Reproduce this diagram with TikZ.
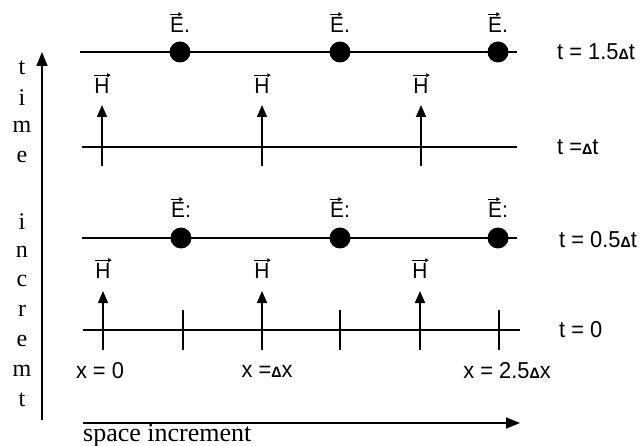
\documentclass[tikz,border=0pt]{standalone}
\usepackage{fontspec}
\setmainfont{Liberation Serif}
\newfontfamily\labfont[FakeStretch=0.95]{Liberation Sans}
\usetikzlibrary{arrows.meta}

% small delta used in the step labels
\newcommand\dtri{{\fontsize{15}{15}\selectfont\bfseries Δ}}

\tikzset{
  gridline/.style={line width=1.8pt},
  tickmark/.style={line width=1.6pt},
  harrow/.style={line width=1.6pt,-{Triangle[length=12pt,width=10pt]}},
  axisarrow/.style={line width=1.6pt,-{Triangle[length=14pt,width=11pt]}},
  vecarrow/.style={line width=1pt,-{Triangle[length=3.5pt,width=4pt]}},
  edot/.style={circle,fill=black,draw=none,inner sep=0pt,minimum size=21pt},
  steplabel/.style={anchor=west,inner sep=0pt,font=\labfont\fontsize{23}{23}\selectfont},
  poslabel/.style={inner sep=0pt,font=\labfont\fontsize{23}{23}\selectfont},
  fieldlabel/.style={inner sep=0pt,font=\labfont\fontsize{22}{22}\selectfont},
  letter/.style={inner sep=0pt,font=\fontsize{24}{24}\selectfont},
  axistext/.style={anchor=west,inner sep=0pt,font=\fontsize{26}{26}\selectfont}
}

\begin{document}
\begin{tikzpicture}[x=1pt,y=-1pt]
\useasboundingbox (0,0) rectangle (642,446);

% ---- row t = 1.5 dt : E samples
\coordinate (r1l) at (80,52);
\coordinate (r1r) at (517,52);
\draw[gridline] (r1l) -- (r1r);
\foreach \n/\x in {a/180,b/340,c/498}{
  \node[edot] (e1\n) at (\x,52) {};
  \node[fieldlabel] (le1\n) at (\x,25) {E.};
  \draw[vecarrow] ([yshift=3pt]le1\n.north west) -- ++(12,0);
}
\node[steplabel] (t15) at (557,52) {t = 1.5\dtri t};

% ---- row t = dt : H samples
\coordinate (r2l) at (82,147);
\coordinate (r2r) at (517,147);
\draw[gridline] (r2l) -- (r2r);
\foreach \n/\x in {a/102,b/262,c/421}{
  \coordinate (h2b\n) at (\x,166);
  \coordinate (h2t\n) at (\x,105);
  \draw[harrow] (h2b\n) -- (h2t\n);
  \node[fieldlabel] (lh2\n) at (\x,86) {H};
  \draw[vecarrow] ([yshift=3pt]lh2\n.north west) -- ([yshift=3pt,xshift=1pt]lh2\n.north east);
}
\node[steplabel] (t10) at (557,147) {t =\dtri t};

% ---- row t = 0.5 dt : E samples
\coordinate (r3l) at (82,238);
\coordinate (r3r) at (517,238);
\draw[gridline] (r3l) -- (r3r);
\foreach \n/\x in {a/181,b/340,c/498}{
  \node[edot] (e3\n) at (\x,238) {};
  \node[fieldlabel] (le3\n) at (\x,210) {E:};
  \draw[vecarrow] ([yshift=3pt]le3\n.north west) -- ++(12,0);
}
\node[steplabel] (t05) at (559,240) {t = 0.5\dtri t};

% ---- row t = 0 : H samples and grid ticks
\coordinate (r4l) at (83,330);
\coordinate (r4r) at (520,330);
\draw[gridline] (r4l) -- (r4r);
\foreach \n/\x in {a/103,b/262,c/420}{
  \coordinate (h4b\n) at (\x,350);
  \coordinate (h4t\n) at (\x,291);
  \draw[harrow] (h4b\n) -- (h4t\n);
  \node[fieldlabel] (lh4\n) at (\x,271) {H};
  \draw[vecarrow] ([yshift=3pt]lh4\n.north west) -- ([yshift=3pt,xshift=1pt]lh4\n.north east);
}
\foreach \n/\x in {a/183,b/340,c/499}{
  \coordinate (k\n1) at (\x,310);
  \coordinate (k\n2) at (\x,350);
  \draw[tickmark] (k\n1) -- (k\n2);
}
\node[steplabel] (t00) at (559,330) {t = 0};

% ---- position labels
\node[poslabel] (x0) at (100,371) {x = 0};
\node[poslabel] (x1) at (267,371) {x =\dtri x};
\node[poslabel] (x25) at (507,371) {x = 2.5\dtri x};

% ---- time axis
\coordinate (ta0) at (42,420);
\coordinate (ta1) at (42,52);
\draw[axisarrow] (ta0) -- (ta1);
\foreach \c [count=\i] in {t,i,m,e}{
  \node[letter] (tl\i) at (22,{68+(\i-1)*29.5}) {\c};
}
\foreach \c [count=\i] in {i,n,c,r,e,m,t}{
  \node[letter] (il\i) at (22,{222+(\i-1)*29.7}) {\c};
}

% ---- space axis
\coordinate (sa0) at (83,423);
\coordinate (sa1) at (520,423);
\draw[axisarrow] (sa0) -- (sa1);
\node[axistext] (stext) at (83,436) {space increment};
\end{tikzpicture}
\end{document}
